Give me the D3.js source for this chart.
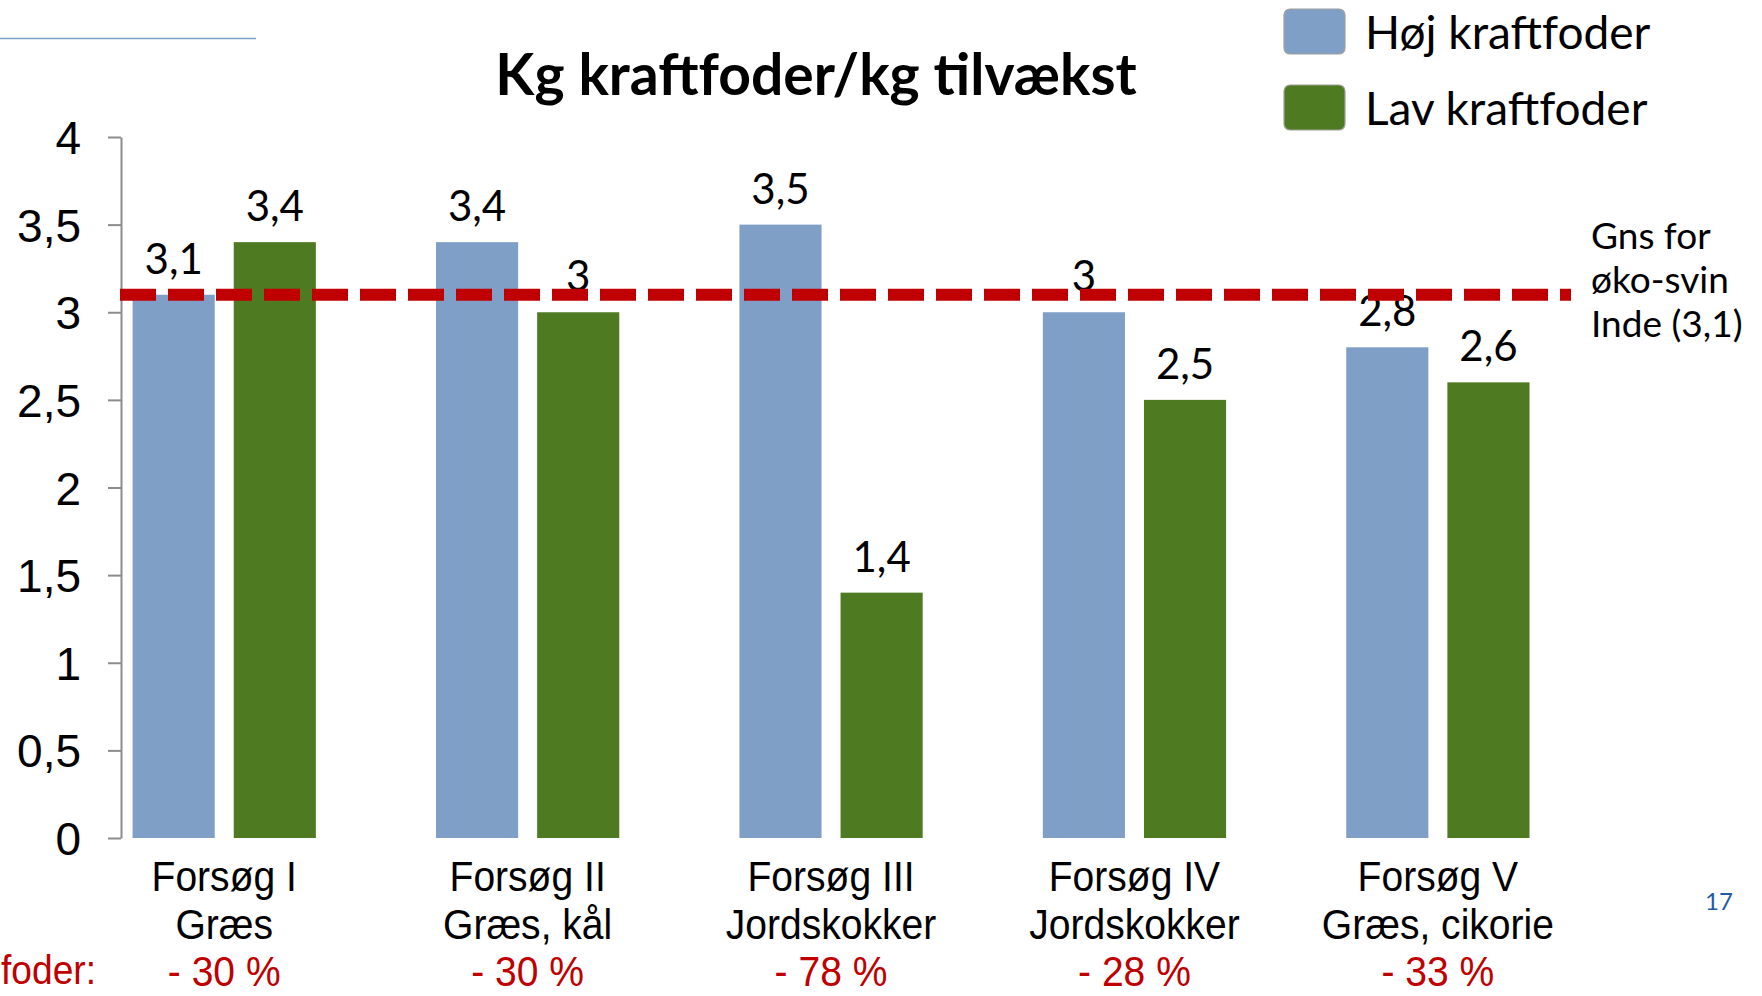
<!DOCTYPE html>
<html>
<head>
<meta charset="utf-8">
<script src="https://cdn.jsdelivr.net/npm/d3@7"></script>
<style>
  html, body { margin: 0; padding: 0; background: #fff; }
  svg { display: block; }
</style>
</head>
<body>
<svg id="chart" width="1762" height="996"></svg>
<script>
// ---- data ----
const categoryLine1 = ["Forsøg I", "Forsøg II", "Forsøg III", "Forsøg IV", "Forsøg V"];
const categoryLine2 = ["Græs", "Græs, kål", "Jordskokker", "Jordskokker", "Græs, cikorie"];
const reductions = ["- 30 %", "- 30 %", "- 78 %", "- 28 %", "- 33 %"];
const seriesNames = ["Høj kraftfoder", "Lav kraftfoder"];
const highValues = [3.1, 3.4, 3.5, 3.0, 2.8];
const lowValues = [3.4, 3.0, 1.4, 2.5, 2.6];
const yTicks = [0, 0.5, 1, 1.5, 2, 2.5, 3, 3.5, 4];
const averageValue = 3.1;
const averageLabel = ["Gns for", "øko-svin", "Inde (3,1)"];
const titleText = "Kg kraftfoder/kg tilvækst";
const reductionPrefix = "foder:";
const pageNumber = "17";

// ---- styles ----
const colors = { high: "#7F9FC7", low: "#4E7B21", red: "#C00000", axis: "#8C8C8C" };
const gothic = "Lato, 'Open Sans', sans-serif";
const arial = "'Liberation Sans', Arial, sans-serif";

const svg = d3.select("#chart");

const axisX = 121;
const y = d3.scaleLinear().domain([0, 4]).range([838, 137]);
const x0 = d3.scaleBand().domain(d3.range(categoryLine1.length))
  .range([132.6, 1529.5]).paddingInner(0.396).paddingOuter(0);
const x1 = d3.scaleBand().domain([0, 1]).range([0, x0.bandwidth()])
  .paddingInner(0.188).paddingOuter(0);

// top-left decorative line
svg.append("line").attr("x1", 0).attr("x2", 256).attr("y1", 38.5).attr("y2", 38.5)
  .attr("stroke", "#7F9FC7").attr("stroke-width", 1.5);

// title
svg.append("text").attr("x", 816).attr("y", 95).attr("text-anchor", "middle")
  .attr("font-family", gothic).attr("font-weight", 700).attr("font-size", 57)
  .attr("fill", "#000").text(titleText);

// y axis
const yAxis = d3.axisLeft(y).tickValues(yTicks).tickSize(13).tickSizeOuter(0).tickPadding(27)
  .tickFormat(d => String(d).replace(".", ","));
const gy = svg.append("g").attr("transform", `translate(${axisX},0)`).call(yAxis);
gy.select(".domain").attr("stroke", colors.axis).attr("stroke-width", 2);
gy.selectAll(".tick line").attr("stroke", colors.axis).attr("stroke-width", 2);
gy.selectAll(".tick text").attr("font-family", arial).attr("font-size", 46).attr("fill", "#000")
  .attr("dy", "0.36em");

// bars
const rows = categoryLine1.map((c, i) => ({ i, vals: [highValues[i], lowValues[i]] }));
const groups = svg.append("g").selectAll("g").data(rows).join("g")
  .attr("transform", d => `translate(${x0(d.i)},0)`);
groups.selectAll("rect").data(d => d.vals.map((v, k) => ({ v, k }))).join("rect")
  .attr("x", d => x1(d.k)).attr("width", x1.bandwidth())
  .attr("y", d => y(d.v)).attr("height", d => y(0) - y(d.v))
  .attr("fill", d => d.k === 0 ? colors.high : colors.low);

// value labels
groups.selectAll("text.val").data(d => d.vals.map((v, k) => ({ v, k }))).join("text")
  .attr("class", "val")
  .attr("x", d => x1(d.k) + x1.bandwidth() / 2)
  .attr("y", d => y(d.v) - 21)
  .attr("text-anchor", "middle").attr("font-family", gothic).attr("font-size", 42)
  .attr("fill", "#000").text(d => String(d.v).replace(".", ","));

// average dashed line (drawn over labels)
svg.append("line").attr("x1", 120).attr("x2", 1571)
  .attr("y1", y(averageValue)).attr("y2", y(averageValue))
  .attr("stroke", colors.red).attr("stroke-width", 12).attr("stroke-dasharray", "36,12");

// average annotation
svg.append("g").selectAll("text").data(averageLabel).join("text")
  .attr("x", 1591).attr("y", (d, i) => 249 + i * 44)
  .attr("font-family", gothic).attr("font-size", 37).attr("fill", "#000").text(d => d);

// category labels (condensed)
const catG = svg.append("g").selectAll("g").data(rows).join("g")
  .attr("transform", d => `translate(${x0(d.i) + x0.bandwidth() / 2},0) scale(0.93,1)`);
catG.append("text").attr("y", 891).attr("text-anchor", "middle")
  .attr("font-family", arial).attr("font-size", 42).attr("fill", "#000")
  .text(d => categoryLine1[d.i]);
catG.append("text").attr("y", 939).attr("text-anchor", "middle")
  .attr("font-family", arial).attr("font-size", 42).attr("fill", "#000")
  .text(d => categoryLine2[d.i]);
catG.append("text").attr("y", 986.5).attr("text-anchor", "middle")
  .attr("font-family", arial).attr("font-size", 42).attr("fill", colors.red)
  .text(d => reductions[d.i]);

// prefix on the left
svg.append("g").attr("transform", "translate(1,0) scale(0.93,1)")
  .append("text").attr("y", 984).attr("text-anchor", "start")
  .attr("font-family", arial).attr("font-size", 40).attr("fill", colors.red)
  .text(reductionPrefix);

// legend
const legend = svg.append("g").selectAll("g").data(seriesNames).join("g")
  .attr("transform", (d, i) => `translate(1284,${9 + i * 76})`);
legend.append("rect").attr("width", 61).attr("height", 45).attr("rx", 6).attr("ry", 6)
  .attr("fill", (d, i) => i === 0 ? colors.high : colors.low)
  .attr("stroke", "#A0A0A0").attr("stroke-width", 1.2);
legend.append("text").attr("x", 81).attr("y", 40)
  .attr("font-family", gothic).attr("font-size", 46).attr("fill", "#000").text(d => d);

// page number
svg.append("text").attr("x", 1705).attr("y", 910)
  .attr("font-family", gothic).attr("font-size", 24).attr("fill", "#1F5AA6").text(pageNumber);
</script>
</body>
</html>
